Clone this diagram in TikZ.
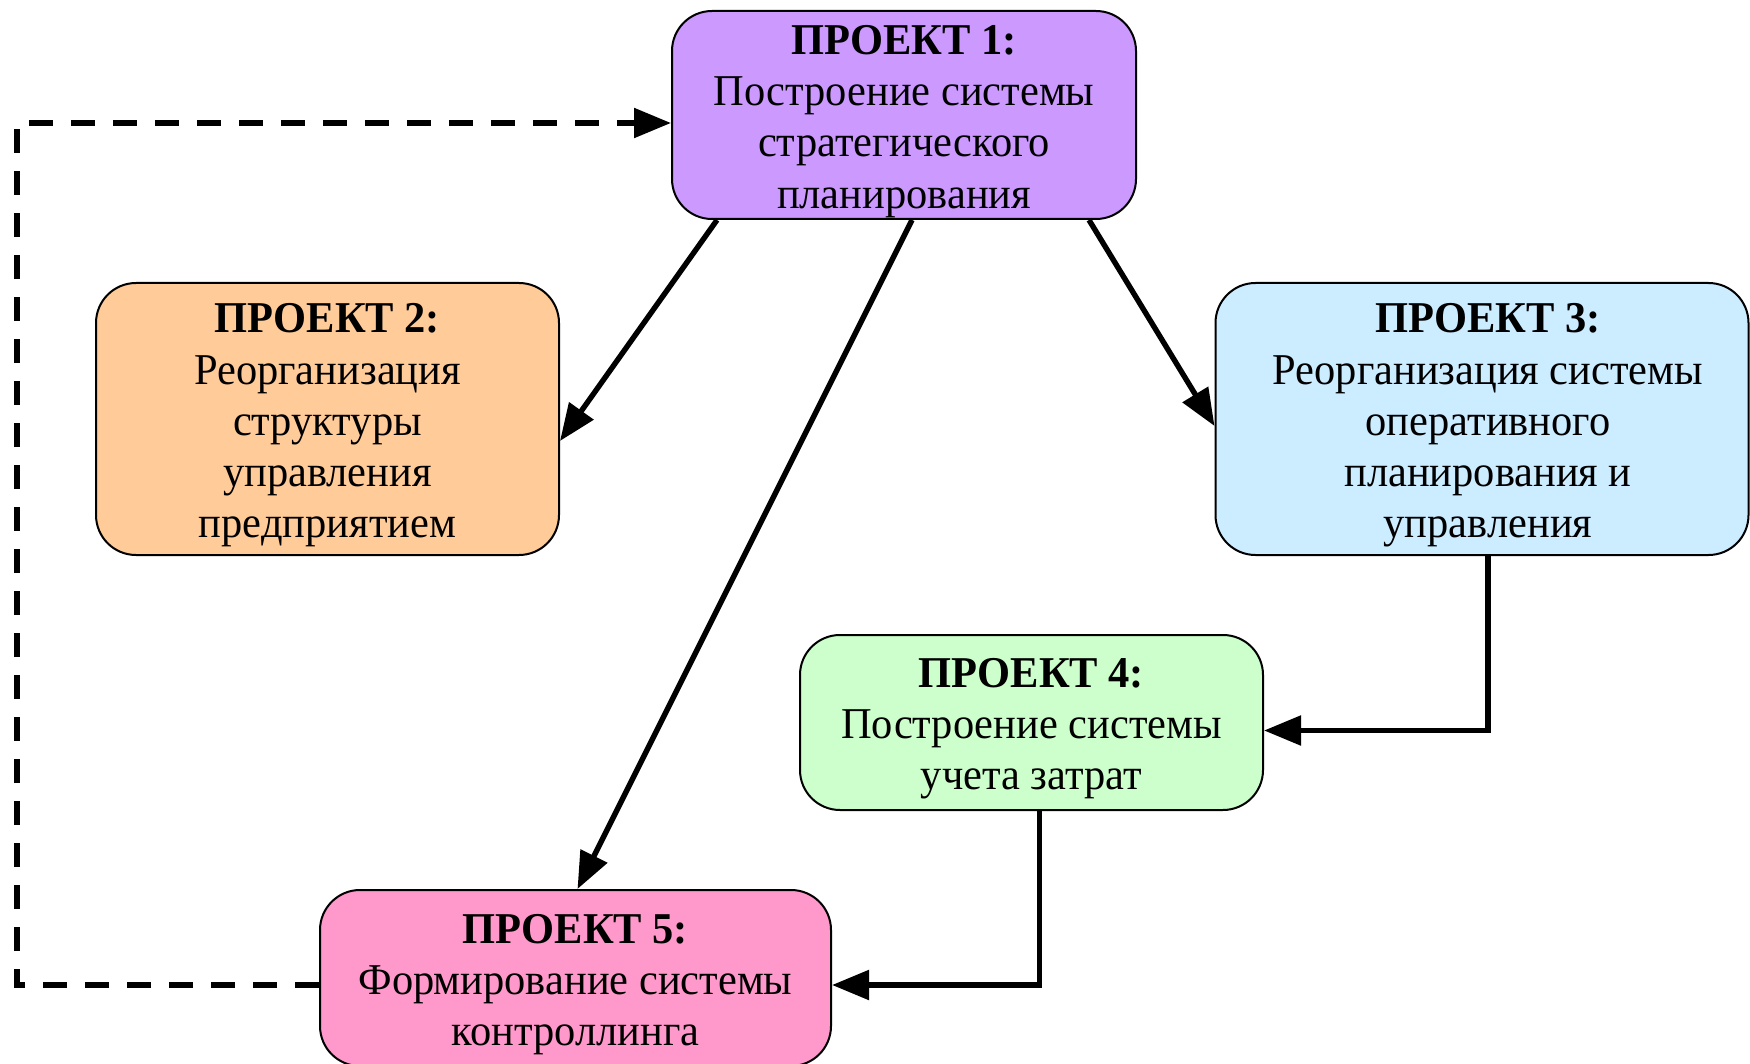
\documentclass[tikz,border=0pt]{standalone}
\usepackage{fontspec}
\setmainfont[FakeStretch=0.965]{Liberation Serif}
\usetikzlibrary{arrows.meta,calc}
\definecolor{pviolet}{HTML}{CC99FF}
\definecolor{porange}{HTML}{FFCC99}
\definecolor{pblue}{HTML}{CCECFF}
\definecolor{pgreen}{HTML}{CCFFCC}
\definecolor{ppink}{HTML}{FF99CC}
\begin{document}
\begin{tikzpicture}[x=0.5pt,y=-0.5pt,
  project/.style={draw=black,line width=1pt,rounded corners=20pt,inner sep=0pt},
  caption/.style={align=center,inner sep=0pt,yshift=-3.2pt,
    font=\fontsize{22}{25.6}\selectfont},
  arr/.style={line width=2.7pt,-{Triangle[length=18.5pt,width=14.5pt]}},
  back/.style={arr,dash pattern=on 12pt off 9pt}]
\useasboundingbox (0,0) rectangle (1750,1064);

\node[project,fill=pviolet,minimum width=232pt,minimum height=104pt,
  label={[caption]center:{\textbf{ПРОЕКТ 1:}\\Построение системы\\стратегического\\планирования}}]
  (b1) at (904,115) {};
\node[project,fill=porange,minimum width=231.5pt,minimum height=136pt,
  label={[caption]center:{\textbf{ПРОЕКТ 2:}\\Реорганизация\\структуры\\управления\\предприятием}}]
  (b2) at (327.5,419) {};
\node[project,fill=pblue,minimum width=266.5pt,minimum height=136pt,
  label={[caption,xshift=3pt]center:{\textbf{ПРОЕКТ 3:}\\Реорганизация системы\\оперативного\\планирования и\\управления}}]
  (b3) at (1482,419) {};
\node[project,fill=pgreen,minimum width=231.5pt,minimum height=87.5pt,
  label={[caption]center:{\textbf{ПРОЕКТ 4:}\\Построение системы\\учета затрат}}]
  (b4) at (1031.5,722.5) {};
\node[project,fill=ppink,minimum width=255.5pt,minimum height=88pt,
  label={[caption]center:{\textbf{ПРОЕКТ 5:}\\Формирование системы\\контроллинга}}]
  (b5) at (575.5,978) {};

\coordinate (loopx) at (17,0);

% links from the first project
\draw[arr] ($(b1.south west)+(46,0)$) -- ($(b2.east)+(0,22)$);
\draw[arr] ($(b1.south)+(8,0)$) -- ($(b5.north)+(2,0)$);
\draw[arr] ($(b1.south east)+(-48,0)$) -- ($(b3.west)+(0,7)$);
% chain 3 -> 4 -> 5
\draw[arr] ($(b3.south)+(6,0)$) |- ($(b4.east)+(0,8)$);
\draw[arr] ($(b4.south)+(8,0)$) |- ($(b5.east)+(0,7)$);
% feedback from 5 to 1
\draw[back] ($(b5.west)+(0,7)$) -| (loopx |- {$(b1.west)+(0,8)$}) -- ($(b1.west)+(0,8)$);
\end{tikzpicture}
\end{document}
